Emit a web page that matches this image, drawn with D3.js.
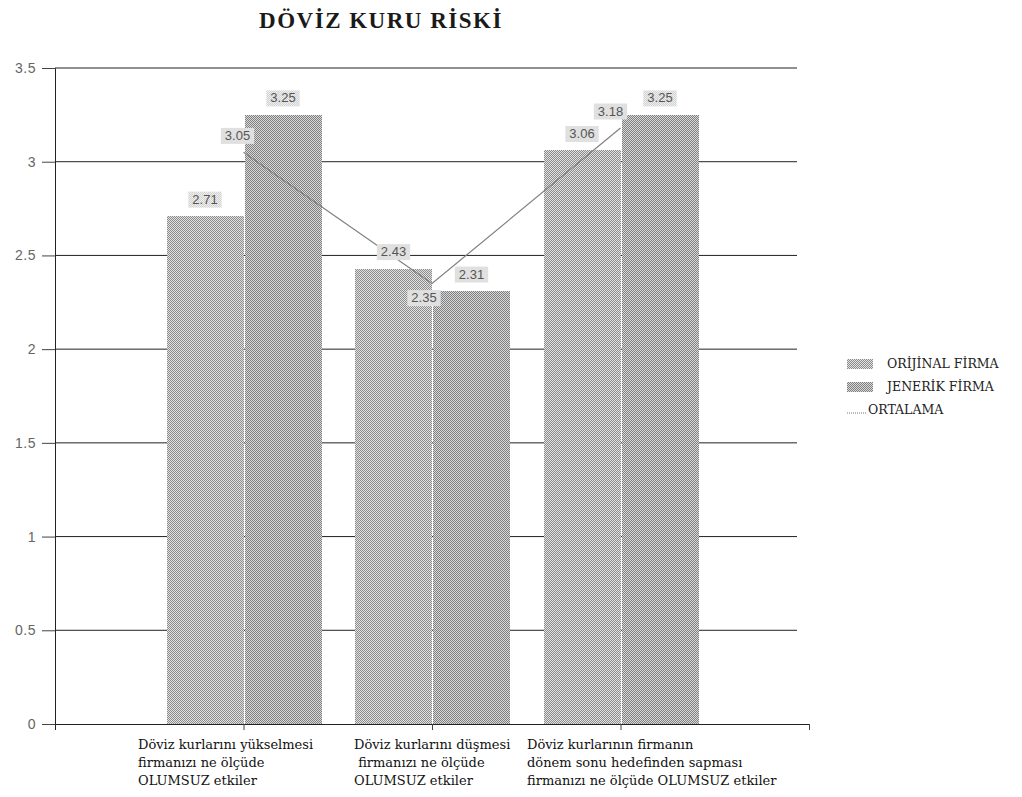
<!DOCTYPE html>
<html>
<head>
<meta charset="utf-8">
<script src="https://cdn.jsdelivr.net/npm/d3@7"></script>
<style>
  body { margin: 0; background: #fff; }
  svg { display: block; }
</style>
</head>
<body>
<div id="chart"></div>
<script>
// DATA
let categories = [
    ['Döviz kurlarını yükselmesi', 'firmanızı ne ölçüde', 'OLUMSUZ etkiler'],
    ['Döviz kurlarını düşmesi', ' firmanızı ne ölçüde', 'OLUMSUZ etkiler'],
    ['Döviz kurlarının firmanın', 'dönem sonu hedefinden sapması', 'firmanızı ne ölçüde OLUMSUZ etkiler']
];
let orijinal = [2.71, 2.43, 3.06];
let jenerik = [3.25, 2.31, 3.25];
let ortalama = [3.05, 2.35, 3.18];
let seriesNames = ['ORİJİNAL FİRMA', 'JENERİK FİRMA', 'ORTALAMA'];
let yTicks = [0, 0.5, 1, 1.5, 2, 2.5, 3, 3.5];

// PLOTTING VARIABLES
let width = 1022, height = 797;
let margin = {top: 68, left: 55, bottom: 73, right: 214};
let serif = '"DejaVu Serif", "Liberation Serif", serif';
let sans = '"Liberation Sans", Arial, sans-serif';

let svg = d3.select('#chart').append('svg')
    .attr('width', width)
    .attr('height', height);

// dither patterns, like the old printed chart
let defs = svg.append('defs');
function dither(id, light, dark) {
    let p = defs.append('pattern')
        .attr('id', id)
        .attr('patternUnits', 'userSpaceOnUse')
        .attr('width', 2).attr('height', 2);
    p.append('rect').attr('width', 2).attr('height', 2).attr('fill', light);
    p.append('rect').attr('width', 1).attr('height', 1).attr('fill', dark);
    p.append('rect').attr('x', 1).attr('y', 1).attr('width', 1).attr('height', 1).attr('fill', dark);
}
dither('patO', '#e2e2e2', '#8c8c8c');
dither('patJ', '#d8d8d8', '#808080');
dither('patL', '#f4f4f4', '#cccccc');

// Scales
let x = d3.scaleLinear()
    .domain([0, categories.length + 1])
    .range([margin.left, width - margin.right + 1]);

let y = d3.scaleLinear()
    .domain([0, 3.5])
    .range([height - margin.bottom, margin.top]);

let inner = d3.scaleBand()
    .domain(['o', 'j'])
    .range([-78, 78])
    .paddingInner(0.015)
    .round(true);

// title
svg.append('text')
    .attr('x', 381)
    .attr('y', 28)
    .attr('text-anchor', 'middle')
    .style('font-family', '"Liberation Serif", "Times New Roman", serif')
    .style('font-weight', 'bold')
    .style('font-size', '23px')
    .style('letter-spacing', '1.5px')
    .attr('fill', '#1a1a1a')
    .text('DÖVİZ KURU RİSKİ');

// gridlines
svg.append('g')
    .selectAll('line')
    .data(yTicks.filter(d => d > 0))
    .enter()
    .append('line')
    .attr('x1', margin.left)
    .attr('x2', 797)
    .attr('y1', d => y(d))
    .attr('y2', d => y(d))
    .attr('stroke', '#222')
    .attr('stroke-width', 1);

// y axis
let yAxis = svg.append('g')
    .attr('transform', `translate(${margin.left},0)`)
    .call(d3.axisLeft(y).tickValues(yTicks).tickSize(13).tickPadding(6).tickFormat(d3.format('')));
yAxis.select('.domain').attr('stroke', '#222');
yAxis.selectAll('.tick line').attr('stroke', '#444');
yAxis.selectAll('.tick text')
    .style('font-family', sans)
    .style('font-size', '14px')
    .style('letter-spacing', '0.5px')
    .attr('fill', '#666');

// bars
let groups = svg.append('g')
    .selectAll('g')
    .data(categories.map((c, i) => ({i: i, o: orijinal[i], j: jenerik[i]})))
    .enter()
    .append('g')
    .attr('transform', d => `translate(${Math.round(x(d.i + 1))},0)`);

groups.selectAll('rect')
    .data(d => [{k: 'o', v: d.o}, {k: 'j', v: d.j}])
    .enter()
    .append('rect')
    .attr('x', d => inner(d.k))
    .attr('width', inner.bandwidth())
    .attr('y', d => Math.round(y(d.v)))
    .attr('height', d => Math.round(y(0)) - Math.round(y(d.v)))
    .style('fill', d => d.k == 'o' ? 'url(#patO)' : 'url(#patJ)');

// x axis
let xAxis = svg.append('g')
    .attr('transform', `translate(0,${y(0)})`)
    .call(d3.axisBottom(x).tickValues(d3.range(1, categories.length + 2)).tickSize(6).tickFormat(''));
xAxis.select('.domain').attr('stroke', '#222');
xAxis.selectAll('.tick line').attr('stroke', '#444');

// average line
let line = d3.line()
    .x((d, i) => x(i + 1))
    .y(d => y(d));

svg.append('path')
    .datum(ortalama)
    .attr('d', line)
    .attr('fill', 'none')
    .attr('stroke', '#808080')
    .attr('stroke-width', 1.2);

// value labels
function addLabel(cx, cy, txt) {
    let g = svg.append('g').attr('transform', `translate(${cx},${cy})`);
    let t = g.append('text')
        .attr('text-anchor', 'middle')
        .attr('dy', '0.35em')
        .style('font-family', sans)
        .style('font-size', '13px')
        .attr('fill', '#555')
        .text(txt);
    let bb = t.node().getBBox();
    g.insert('rect', 'text')
        .attr('x', bb.x - 4)
        .attr('y', bb.y)
        .attr('width', bb.width + 8)
        .attr('height', bb.height + 1)
        .style('fill', 'url(#patL)');
}

orijinal.forEach((v, i) => addLabel(x(i + 1) + inner('o') + inner.bandwidth() / 2, y(v) - 17, v.toFixed(2)));
jenerik.forEach((v, i) => addLabel(x(i + 1) + inner('j') + inner.bandwidth() / 2, y(v) - 17, v.toFixed(2)));
ortalama.forEach((v, i) => {
    let below = (i > 0 && i < ortalama.length - 1 && v < ortalama[i - 1] && v < ortalama[i + 1]);
    addLabel(x(i + 1) - (below ? 8 : 6 + i * 2), below ? y(v) + 14 : y(v) - 17, v.toFixed(2));
});

// category labels
let catX = [138, 354, 527];
categories.forEach((lines, i) => {
    let t = svg.append('text')
        .attr('x', catX[i])
        .attr('y', 749)
        .style('font-family', serif)
        .style('font-size', '13px')
        .attr('fill', '#111')
        .style('white-space', 'pre');
    lines.forEach((l, k) => {
        t.append('tspan')
            .attr('x', catX[i])
            .attr('dy', k == 0 ? 0 : 18)
            .text(l);
    });
});

// legend
let legend = svg.append('g').attr('transform', 'translate(847,364)');
seriesNames.forEach((name, i) => {
    let row = legend.append('g').attr('transform', `translate(0,${i * 23})`);
    if (i < 2) {
        row.append('rect')
            .attr('x', 0).attr('y', -5)
            .attr('width', 26).attr('height', 10)
            .style('fill', i == 0 ? 'url(#patO)' : 'url(#patJ)');
    } else {
        row.append('line')
            .attr('x1', 0).attr('x2', 20)
            .attr('y1', 3).attr('y2', 3)
            .attr('stroke', '#777')
            .attr('stroke-dasharray', '1,1');
    }
    row.append('text')
        .attr('x', i < 2 ? 40 : 21)
        .attr('y', 0)
        .attr('dy', '0.35em')
        .style('font-family', serif)
        .style('font-size', '12.5px')
        .attr('fill', '#222')
        .text(name);
});
</script>
</body>
</html>
